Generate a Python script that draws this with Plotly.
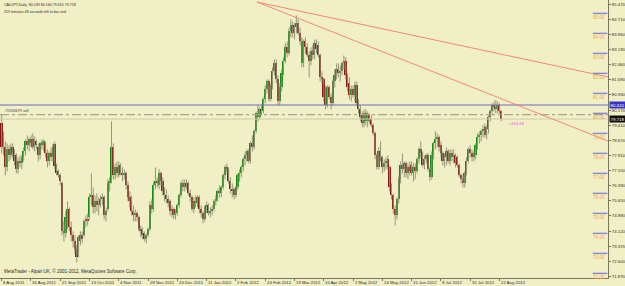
import plotly.graph_objects as go

# ---------------- data ----------------
opens = [79.50, 78.90, 78.30, 77.30, 78.20, 77.90, 78.30, 78.00, 77.90, 77.20,
         77.60, 77.50, 77.80, 78.10, 78.60, 78.40, 78.70, 78.70, 78.30, 78.60,
         78.30, 77.90, 78.50, 78.40, 78.50, 78.00, 77.60, 78.00, 77.80, 78.45,
         77.40, 77.10, 76.90, 76.50, 74.10, 74.00, 74.50, 75.20, 74.30, 73.90,
         73.60, 73.20, 72.90, 73.60, 73.90, 73.90, 74.60, 74.70, 74.80, 75.80,
         75.90, 75.30, 75.60, 75.40, 75.50, 75.70, 75.80, 74.90, 75.20, 76.50,
         76.60, 78.30, 76.90, 77.30, 76.90, 77.40, 77.00, 76.90, 77.00, 76.40,
         75.80, 75.60, 75.10, 74.90, 75.00, 74.80, 74.20, 74.10, 74.00, 73.70,
         73.90, 74.20, 75.40, 75.20, 76.40, 76.60, 76.40, 77.00, 76.60, 76.10,
         75.90, 75.70, 75.60, 75.10, 75.20, 74.90, 75.00, 75.40, 75.90, 76.50,
         76.30, 76.50, 76.50, 76.00, 75.80, 75.20, 75.60, 75.50, 75.80, 75.20,
         75.00, 74.70, 75.30, 75.40, 75.00, 75.10, 75.20, 75.60, 75.70, 76.10,
         76.00, 76.30, 76.90, 77.30, 77.20, 76.60, 76.20, 76.20, 75.90, 76.30,
         76.90, 77.00, 77.30, 77.70, 77.90, 78.10, 77.60, 78.50, 78.30, 79.10,
         80.00, 79.80, 80.20, 80.10, 80.70, 81.20, 81.60, 80.70, 81.40, 82.10,
         82.50, 81.70, 80.60, 81.30, 82.00, 82.60, 83.30, 83.00, 84.10, 84.40,
         84.00, 84.30, 84.50, 84.00, 83.60, 82.50, 83.60, 83.30, 82.90, 82.60,
         83.10, 82.90, 83.50, 83.40, 82.90, 81.80, 81.70, 81.20, 80.40, 81.30,
         80.80, 80.50, 81.60, 81.90, 82.20, 82.00, 82.10, 82.50, 82.60, 81.90,
         81.50, 80.90, 81.20, 80.90, 81.40, 80.50, 80.20, 79.90, 79.50, 80.00,
         79.60, 79.90, 79.70, 79.40, 79.00, 77.90, 77.30, 78.10, 77.80, 77.30,
         77.50, 77.70, 77.30, 76.30, 75.90, 75.20, 74.90, 75.70, 76.70, 77.40,
         77.20, 77.50, 77.00, 77.30, 77.40, 77.00, 77.30, 77.10, 77.70, 78.20,
         78.00, 77.40, 77.70, 77.90, 77.20, 76.80, 77.90, 78.50, 78.70, 78.80,
         78.40, 78.00, 77.60, 77.80, 78.10, 77.60, 78.00, 77.80, 77.90, 77.80,
         77.40, 76.90, 76.70, 76.50, 77.00, 77.60, 78.20, 78.00, 77.80, 77.90,
         78.40, 78.80, 78.90, 79.10, 79.30, 78.90, 79.20, 79.80, 80.10, 80.40,
         80.30, 80.20, 80.40, 80.139]
highs = [79.92, 79.10, 78.60, 78.50, 78.40, 78.50, 78.50, 78.20, 78.00, 77.80,
         77.90, 77.90, 78.30, 78.70, 78.90, 78.80, 78.90, 79.00, 78.85, 78.70,
         78.50, 78.60, 78.70, 78.70, 78.60, 78.20, 78.10, 78.30, 78.50, 78.60,
         77.50, 77.20, 77.00, 76.60, 74.60, 75.10, 75.60, 75.30, 74.60, 74.10,
         73.90, 73.40, 73.90, 74.10, 74.10, 74.70, 74.90, 75.00, 76.00, 77.00,
         76.30, 75.90, 76.00, 75.80, 75.90, 76.00, 75.90, 75.30, 76.70, 76.80,
         79.60, 78.50, 77.50, 77.60, 77.60, 77.50, 77.30, 77.20, 77.10, 76.60,
         76.10, 75.90, 75.40, 75.20, 75.10, 74.90, 74.40, 74.30, 74.10, 74.00,
         74.30, 75.60, 75.70, 76.60, 77.30, 76.80, 77.20, 77.10, 76.80, 76.30,
         76.20, 75.90, 75.70, 75.40, 75.30, 75.20, 75.50, 76.00, 76.60, 76.70,
         76.70, 76.70, 76.60, 76.20, 75.90, 75.80, 75.90, 75.90, 75.90, 75.40,
         75.10, 75.40, 75.60, 75.50, 75.30, 75.40, 75.70, 75.90, 76.20, 76.40,
         76.40, 77.00, 77.40, 77.50, 77.30, 76.80, 76.50, 76.30, 76.40, 77.00,
         77.20, 77.40, 77.80, 78.10, 78.20, 78.20, 78.60, 78.90, 79.20, 80.10,
         80.40, 80.30, 80.40, 80.80, 81.40, 81.70, 81.70, 81.50, 82.30, 82.70,
         82.70, 81.90, 81.50, 82.20, 82.80, 83.50, 83.60, 84.30, 84.70, 84.60,
         84.50, 84.90, 84.70, 84.30, 83.80, 83.70, 83.80, 83.50, 83.10, 83.30,
         83.40, 83.70, 83.70, 83.60, 83.00, 82.10, 81.80, 81.40, 81.40, 81.40,
         81.00, 81.70, 82.20, 82.50, 82.50, 82.40, 82.60, 82.90, 82.80, 82.00,
         81.80, 81.40, 81.40, 81.60, 81.60, 80.70, 80.40, 80.10, 80.20, 80.20,
         80.10, 80.00, 79.90, 79.50, 79.10, 78.00, 78.30, 78.60, 77.90, 77.70,
         77.80, 77.90, 77.40, 76.50, 76.00, 75.40, 75.80, 76.90, 77.60, 78.00,
         77.60, 77.60, 77.50, 77.60, 77.60, 77.50, 77.50, 77.80, 78.30, 78.60,
         78.10, 77.90, 78.00, 78.00, 77.30, 78.10, 78.60, 79.10, 79.00, 78.90,
         78.60, 78.10, 78.00, 78.30, 78.20, 78.20, 78.20, 78.20, 78.00, 77.90,
         77.50, 77.00, 76.90, 77.10, 77.80, 78.30, 78.40, 78.20, 78.10, 78.50,
         79.00, 79.10, 79.20, 79.40, 79.50, 79.40, 79.90, 80.20, 80.50, 80.60,
         80.67, 80.60, 80.50, 80.160]
lows = [78.00, 77.90, 76.90, 77.10, 77.60, 77.70, 77.80, 77.40, 77.00, 77.00,
        77.30, 77.20, 77.60, 77.90, 78.20, 78.10, 78.30, 78.20, 78.10, 78.20,
        77.60, 77.70, 78.20, 78.10, 77.80, 77.30, 77.40, 77.60, 77.60, 77.20,
        76.90, 76.80, 76.40, 73.90, 73.60, 73.80, 74.20, 74.10, 73.60, 73.30,
        73.00, 72.55, 72.80, 73.40, 73.50, 73.80, 74.30, 74.40, 74.70, 75.40,
        75.00, 75.00, 75.10, 74.90, 75.30, 75.40, 74.70, 74.60, 75.10, 76.10,
        76.50, 76.70, 76.70, 76.80, 76.80, 76.90, 76.60, 76.70, 76.20, 75.60,
        75.30, 74.90, 74.60, 74.60, 74.60, 74.10, 73.80, 73.70, 73.60, 73.50,
        73.80, 74.10, 75.00, 75.10, 76.20, 76.30, 76.20, 76.40, 75.90, 75.60,
        75.50, 75.30, 74.90, 74.80, 74.70, 74.70, 74.90, 75.30, 75.80, 76.10,
        76.10, 76.20, 75.90, 75.60, 75.10, 75.00, 75.30, 75.30, 75.00, 74.80,
        74.50, 74.60, 75.00, 74.90, 74.80, 74.90, 75.10, 75.40, 75.60, 75.80,
        75.80, 76.20, 76.70, 77.00, 76.50, 76.00, 75.80, 75.70, 75.80, 76.20,
        76.60, 76.80, 77.10, 77.40, 77.60, 77.50, 77.50, 78.10, 78.20, 79.00,
        79.60, 79.70, 79.90, 80.00, 80.50, 81.00, 80.60, 80.60, 81.20, 81.90,
        81.50, 80.40, 80.40, 81.10, 81.90, 82.50, 82.80, 82.90, 83.80, 83.80,
        83.70, 84.00, 83.90, 83.40, 82.30, 82.30, 83.00, 82.80, 81.80, 82.40,
        82.70, 82.70, 83.00, 82.80, 81.60, 81.50, 80.60, 80.20, 80.30, 80.70,
        80.20, 80.40, 81.30, 81.70, 81.80, 81.60, 81.90, 82.20, 81.70, 81.10,
        80.70, 80.60, 80.80, 80.60, 80.40, 80.00, 79.60, 79.30, 79.30, 79.40,
        79.30, 79.50, 79.30, 78.90, 77.70, 77.20, 77.20, 77.60, 77.00, 77.10,
        77.20, 77.20, 76.10, 75.70, 75.00, 74.40, 74.70, 75.50, 76.50, 77.00,
        76.80, 76.80, 76.70, 76.90, 76.90, 76.60, 76.70, 77.00, 77.50, 77.80,
        77.30, 77.20, 77.50, 77.10, 76.60, 76.70, 77.70, 78.20, 78.30, 78.10,
        77.80, 77.40, 77.30, 77.40, 77.50, 77.40, 77.60, 77.50, 77.30, 77.30,
        76.80, 76.50, 76.30, 76.30, 76.90, 77.50, 77.80, 77.60, 77.60, 77.70,
        78.20, 78.50, 78.60, 78.80, 78.80, 78.70, 79.00, 79.60, 80.00, 80.10,
        80.00, 80.00, 80.00, 79.615]
closes = [78.34, 78.35, 77.30, 78.20, 77.90, 78.30, 78.00, 77.60, 77.20, 77.60,
          77.50, 77.80, 78.10, 78.60, 78.40, 78.70, 78.50, 78.30, 78.60, 78.40,
          77.90, 78.50, 78.40, 78.60, 78.00, 77.60, 78.00, 77.80, 78.30, 77.35,
          77.00, 76.90, 76.60, 74.10, 74.00, 74.80, 75.20, 74.30, 73.90, 73.60,
          73.20, 72.80, 73.80, 73.90, 73.70, 74.60, 74.70, 74.60, 75.80, 75.90,
          75.30, 75.60, 75.40, 75.50, 75.70, 75.80, 74.90, 75.10, 76.50, 76.60,
          78.30, 76.90, 77.30, 77.00, 77.40, 77.00, 76.90, 77.00, 76.40, 75.80,
          75.60, 75.10, 74.90, 75.00, 74.80, 74.20, 74.10, 73.90, 73.70, 73.90,
          74.20, 75.40, 75.20, 76.40, 76.60, 76.50, 77.00, 76.60, 76.10, 75.90,
          75.70, 75.50, 75.10, 75.20, 74.90, 75.00, 75.40, 75.90, 76.50, 76.30,
          76.50, 76.40, 76.00, 75.80, 75.20, 75.60, 75.50, 75.80, 75.20, 75.00,
          74.70, 75.30, 75.40, 75.00, 75.10, 75.20, 75.60, 75.70, 76.10, 76.00,
          76.30, 76.90, 77.30, 77.20, 76.60, 76.20, 76.10, 75.90, 76.30, 76.90,
          77.00, 77.30, 77.70, 77.90, 78.10, 77.60, 78.50, 78.30, 79.10, 80.00,
          79.80, 80.20, 80.10, 80.70, 81.20, 81.60, 80.70, 81.40, 82.10, 82.50,
          81.70, 80.60, 81.30, 82.00, 82.60, 83.30, 83.00, 84.10, 84.40, 84.00,
          84.30, 84.50, 84.00, 83.60, 82.50, 83.60, 83.30, 82.90, 82.60, 83.10,
          82.90, 83.50, 83.20, 82.90, 81.80, 81.70, 80.80, 80.40, 81.30, 80.80,
          80.50, 81.60, 81.90, 82.20, 82.00, 82.10, 82.50, 82.60, 81.90, 81.30,
          80.90, 81.20, 80.90, 81.40, 80.50, 80.20, 79.80, 79.50, 80.00, 79.60,
          79.90, 79.70, 79.40, 79.00, 77.90, 77.30, 78.10, 77.80, 77.30, 77.50,
          77.60, 77.30, 76.30, 75.90, 75.20, 74.90, 75.70, 76.70, 77.40, 77.20,
          77.50, 77.00, 77.30, 77.10, 77.00, 77.30, 77.10, 77.70, 78.20, 78.00,
          77.40, 77.70, 77.90, 77.20, 76.80, 77.90, 78.50, 78.70, 78.80, 78.30,
          78.00, 77.60, 77.80, 78.10, 77.60, 78.00, 77.80, 77.90, 77.50, 77.40,
          76.90, 76.70, 76.50, 77.00, 77.60, 78.20, 78.00, 77.80, 78.00, 78.40,
          78.80, 78.90, 79.10, 79.20, 78.90, 79.20, 79.80, 80.10, 80.40, 80.30,
          80.20, 80.40, 80.14, 79.718]

date_labels = ["8 Aug 2011", "30 Aug 2011", "21 Sep 2011", "13 Oct 2011",
               "4 Nov 2011", "28 Nov 2011", "20 Dec 2011", "11 Jan 2012",
               "2 Feb 2012", "24 Feb 2012", "19 Mar 2012", "10 Apr 2012",
               "2 May 2012", "24 May 2012", "15 Jun 2012", "9 Jul 2012",
               "31 Jul 2012", "22 Aug 2012"]
bars_per_label = 16

price_ticks = [85.470, 84.710, 83.960, 83.190, 82.460, 81.690, 80.930, 80.170,
               79.410, 78.670, 77.910, 77.150, 76.390, 75.650, 74.890, 74.120,
               73.370, 72.600, 71.870]
round_levels = [85, 84, 83, 82, 81, 80, 79, 78, 77, 76, 75, 74, 73, 72]

blue_level = 80.42
order_price = 79.94
order_text = "#5926679 sell"
profit_text = "+319.48"
profit_bar = 275.5
profit_price = 79.52
# trend lines: common anchor (bar, price) and end points at the right edge
trend_anchor = (139.5, 85.57)
trend_ends = [(331.3, 81.82), (331.3, 78.62)]

title_line1 = "CADJPY,Daily  {:.3f} {:.3f} {:.3f} {:.3f}".format(
    opens[-1], highs[-1], lows[-1], closes[-1])
title_line2 = "319 minutes 48 seconds left to bar end"
footer = "MetaTrader - Alpari UK, \u00a9 2001-2012, MetaQuotes Software Corp."

# ---------------- styling ----------------
BG = "#F1EFC6"
UP = "#138a13"
DOWN = "#8a1414"
WICK = "#979577"
AXIS = "#77775c"
TXT = "#2a2a2a"
FONT = "Liberation Sans"

X0, X1 = -0.93, 331.3
Y0, Y1 = 71.77, 85.67

n = len(closes)
idx = list(range(n))

fig = go.Figure()

# wicks
wx, wy = [], []
for i in idx:
    wx += [i, i, None]
    wy += [lows[i], highs[i], None]
fig.add_trace(go.Scatter(x=wx, y=wy, mode="lines",
                         line=dict(color=WICK, width=1), hoverinfo="skip"))

# bodies
bases, heights, cols = [], [], []
for i in idx:
    o, c = opens[i], closes[i]
    bases.append(min(o, c))
    heights.append(max(abs(c - o), 0.04))
    cols.append(UP if c >= o else DOWN)
fig.add_trace(go.Bar(x=idx, y=heights, base=bases, width=0.9,
                     marker=dict(color=cols, line=dict(width=0)),
                     hoverinfo="skip"))

shapes = []
# horizontal levels
shapes.append(dict(type="line", xref="paper", yref="y", x0=0, x1=1,
                   y0=blue_level, y1=blue_level,
                   line=dict(color="#6a6ac8", width=1)))
shapes.append(dict(type="line", xref="paper", yref="y", x0=0, x1=1,
                   y0=order_price, y1=order_price,
                   line=dict(color="#a9a791", width=1.2, dash="dashdot")))
shapes.append(dict(type="line", xref="paper", yref="y", x0=0, x1=1,
                   y0=closes[-1], y1=closes[-1],
                   line=dict(color="#cfcdb0", width=1)))

# trend lines
for end in trend_ends:
    shapes.append(dict(type="line", xref="x", yref="y",
                       x0=trend_anchor[0], y0=trend_anchor[1],
                       x1=end[0], y1=end[1],
                       line=dict(color="#f08a72", width=1)))

# round-number markers
for lv in round_levels:
    shapes.append(dict(type="line", xref="paper", yref="y", x0=0.975, x1=0.999,
                       y0=lv, y1=lv, line=dict(color="#8383dd", width=1.4)))

annotations = []
for lv in round_levels:
    annotations.append(dict(xref="paper", yref="y", x=0.998, y=lv,
                            xanchor="right", yanchor="top", showarrow=False,
                            text="{:.2f}".format(lv), yshift=0.5,
                            font=dict(family=FONT, size=4.6, color="#f2a93a")))

# date labels (left aligned at ticks)
for k, lab in enumerate(date_labels):
    annotations.append(dict(xref="x", yref="paper", x=k * bars_per_label,
                            y=-0.0145, xanchor="left", yanchor="middle",
                            showarrow=False, text=lab, xshift=-0.5,
                            font=dict(family=FONT, size=4.3, color=TXT)))

# price boxes
annotations.append(dict(xref="paper", yref="y", x=1, y=blue_level,
                        xanchor="left", yanchor="middle", showarrow=False,
                        text="{:.3f}".format(blue_level), bgcolor="#3434c4",
                        borderpad=0.5, xshift=1,
                        font=dict(family=FONT, size=4.4, color="white")))
annotations.append(dict(xref="paper", yref="y", x=1, y=closes[-1],
                        xanchor="left", yanchor="middle", showarrow=False,
                        text="{:.3f}".format(closes[-1]), bgcolor="#101010",
                        borderpad=0.5, xshift=1,
                        font=dict(family=FONT, size=4.4, color="white")))

annotations.append(dict(xref="paper", yref="y", x=0, y=order_price,
                        xanchor="left", yanchor="bottom", showarrow=False,
                        text=order_text, xshift=3, yshift=0,
                        font=dict(family=FONT, size=3.8, color="#3a3a3a")))
annotations.append(dict(xref="x", yref="y", x=profit_bar, y=profit_price,
                        xanchor="left", yanchor="middle", showarrow=False,
                        text=profit_text,
                        font=dict(family=FONT, size=4.4, color="#ee5ce8")))

annotations.append(dict(xref="paper", yref="paper", x=0, y=1, xanchor="left",
                        yanchor="top", showarrow=False, text=title_line1,
                        xshift=2, yshift=-1,
                        font=dict(family=FONT, size=3.6, color=TXT)))
annotations.append(dict(xref="paper", yref="paper", x=0, y=1, xanchor="left",
                        yanchor="top", showarrow=False, text=title_line2,
                        xshift=2, yshift=-7.5,
                        font=dict(family=FONT, size=3.6, color=TXT)))
annotations.append(dict(xref="paper", yref="paper", x=0, y=0, xanchor="left",
                        yanchor="bottom", showarrow=False, text=footer,
                        xshift=2, yshift=2,
                        font=dict(family=FONT, size=4.5, color=TXT)))

fig.update_layout(
    width=625, height=286,
    margin=dict(l=0, r=17, t=0, b=8),
    paper_bgcolor=BG, plot_bgcolor=BG,
    showlegend=False, bargap=0,
    font=dict(family=FONT, size=5, color=TXT),
    shapes=shapes, annotations=annotations,
    xaxis=dict(range=[X0, X1], showgrid=False, zeroline=False,
               showline=True, linecolor=AXIS, linewidth=1, mirror=True,
               ticks="outside", ticklen=2, tickcolor=AXIS,
               tickvals=[k * bars_per_label for k in range(len(date_labels))],
               showticklabels=False, automargin=False, fixedrange=True),
    yaxis=dict(range=[Y0, Y1], side="right", showgrid=False, zeroline=False,
               showline=True, linecolor=AXIS, linewidth=1, mirror=True,
               ticks="outside", ticklen=2, tickcolor=AXIS,
               tickvals=price_ticks,
               ticktext=["{:.3f}".format(v) for v in price_ticks],
               tickfont=dict(family=FONT, size=4.3, color=TXT),
               automargin=False, fixedrange=True),
)

fig.write_html("out.html")
